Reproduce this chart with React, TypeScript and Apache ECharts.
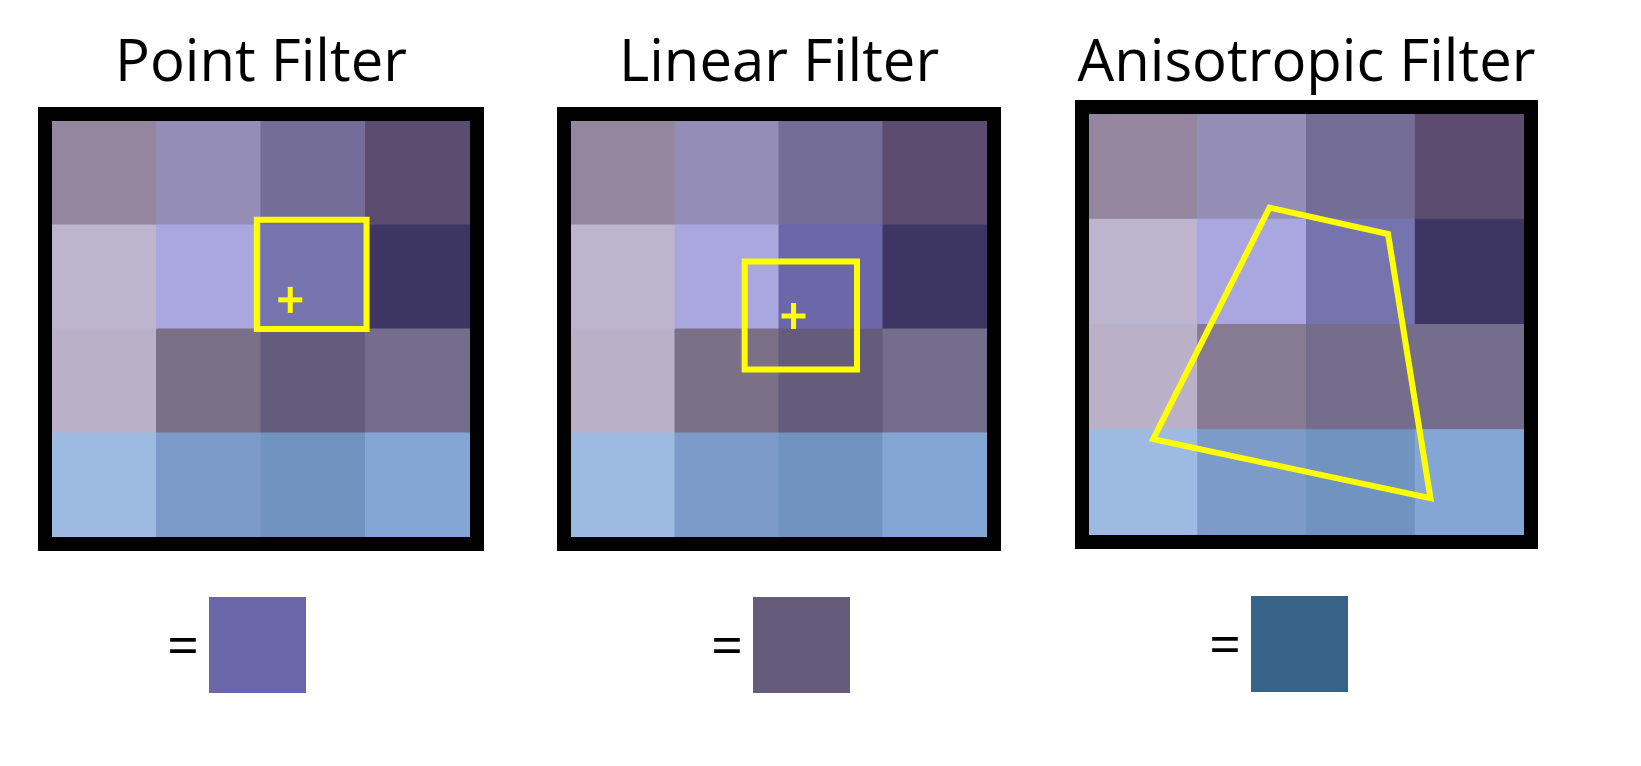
import React, { useEffect, useRef } from "react";
import * as echarts from "echarts";

const titles = ["Point Filter", "Linear Filter", "Anisotropic Filter"];
const cellColors = [
  [
    ["#94869e", "#948eb6", "#746d98", "#5c4c70"],
    ["#bdb4ce", "#a9a6e0", "#7674ae", "#3d3662"],
    ["#bab0c8", "#7b7088", "#655c7c", "#756d8c"],
    ["#9dbbe2", "#7c9bc8", "#7093c0", "#84a6d4"],
  ],
  [
    ["#94869e", "#948eb6", "#746d98", "#5c4c70"],
    ["#bdb4ce", "#a9a6e0", "#6c67a8", "#3d3662"],
    ["#bab0c8", "#7b7088", "#655c7c", "#756d8c"],
    ["#9dbbe2", "#7c9bc8", "#7093c0", "#84a6d4"],
  ],
  [
    ["#94869e", "#948eb6", "#746d98", "#5c4c70"],
    ["#bdb4ce", "#a9a6e0", "#7674ae", "#3d3662"],
    ["#bab0c8", "#877b93", "#756d8c", "#756d8c"],
    ["#9dbbe2", "#7c9bc8", "#7093c0", "#84a6d4"],
  ],
];
const footprints = [
  [[1.96, 0.95], [3.01, 0.95], [3.01, 2.0], [1.96, 2.0]],
  [[1.67, 1.35], [2.75, 1.35], [2.75, 2.39], [1.67, 2.39]],
  [[1.66, 0.89], [2.75, 1.14], [3.14, 3.65], [0.59, 3.09]],
];
const plusPoints: ([number, number] | null)[] = [[2.28, 1.72], [2.14, 1.875], null];
const resultColors = ["#6a66a8", "#655c7c", "#376389"];

const inner = [
  { l: 52, t: 121, w: 418, h: 416 },
  { l: 571, t: 121, w: 416, h: 416 },
  { l: 1089, t: 114, w: 435, h: 421 },
];
const swatch = [
  { x: 209, y: 597 },
  { x: 753, y: 597 },
  { x: 1251, y: 596 },
];

export default function App() {
  const ref = useRef<HTMLDivElement>(null);
  useEffect(() => {
    const chart = echarts.init(ref.current!, null, { renderer: "svg" });
    const grid: any[] = [], xAxis: any[] = [], yAxis: any[] = [], series: any[] = [], graphic: any[] = [];
    inner.forEach((g, i) => {
      grid.push({ left: g.l, top: g.t, width: g.w, height: g.h });
      xAxis.push({ gridIndex: i, type: "value", min: 0, max: 4, show: false });
      yAxis.push({ gridIndex: i, type: "value", min: 0, max: 4, inverse: true, show: false });
      const cells: any[] = [];
      cellColors[i].forEach((row, r) => row.forEach((c, col) => cells.push([col, r, c])));
      series.push({
        type: "custom", xAxisIndex: i, yAxisIndex: i, data: cells,
        renderItem: (p: any, api: any) => {
          const a = api.coord([api.value(0), api.value(1)]);
          const b = api.coord([api.value(0) + 1, api.value(1) + 1]);
          const c = cellColors[i][api.value(1)][api.value(0)];
          return { type: "rect", shape: { x: a[0], y: a[1], width: b[0] - a[0], height: b[1] - a[1] },
            style: { fill: c, stroke: c, lineWidth: 1 } };
        },
      });
      const fp = footprints[i];
      const pp = plusPoints[i];
      series.push({
        type: "custom", xAxisIndex: i, yAxisIndex: i, data: [[0, 0]], z: 5,
        renderItem: (p: any, api: any) => {
          const pts = fp.map((q) => api.coord(q));
          const children: any[] = [{ type: "polygon", shape: { points: pts },
            style: { fill: "none", stroke: "#ffff00", lineWidth: 6 } }];
          if (pp) {
            const c = api.coord(pp);
            children.push({ type: "line", shape: { x1: c[0] - 12, y1: c[1], x2: c[0] + 12, y2: c[1] }, style: { stroke: "#ffff00", lineWidth: 5 } });
            children.push({ type: "line", shape: { x1: c[0], y1: c[1] - 13, x2: c[0], y2: c[1] + 13 }, style: { stroke: "#ffff00", lineWidth: 5 } });
          }
          return { type: "group", children };
        },
      });
      graphic.push({ type: "rect", shape: { x: g.l - 7, y: g.t - 7, width: g.w + 14, height: g.h + 14 },
        style: { fill: "none", stroke: "#000", lineWidth: 14 }, z: 10 });
      graphic.push({ type: "text", x: g.l + g.w / 2, y: 58, style: { text: titles[i], font: "500 58px 'Open Sans', sans-serif",
        fill: "#000", align: "center", verticalAlign: "middle" } });
      const s = swatch[i];
      graphic.push({ type: "rect", shape: { x: s.x, y: s.y, width: 97, height: 96 }, style: { fill: resultColors[i] } });
      graphic.push({ type: "text", x: s.x - 26, y: s.y + 46, style: { text: "=", font: "56px 'Open Sans', sans-serif",
        fill: "#000", align: "center", verticalAlign: "middle" } });
    });
    chart.setOption({ animation: false, backgroundColor: "#fff", grid, xAxis, yAxis, series, graphic });
    return () => chart.dispose();
  }, []);
  return <div ref={ref} style={{ position: "fixed", left: 0, top: 0, width: 1641, height: 766 }} />;
}
